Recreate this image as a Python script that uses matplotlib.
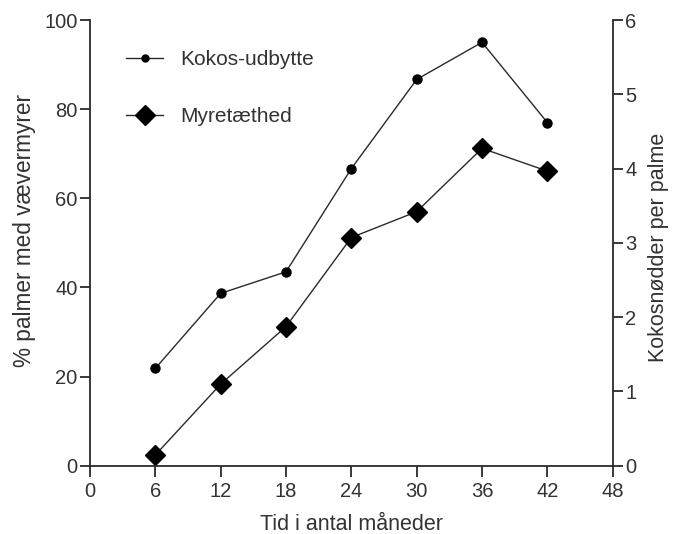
import matplotlib
matplotlib.use("Agg")
import matplotlib.pyplot as plt
from matplotlib.lines import Line2D

months = [6, 12, 18, 24, 30, 36, 42]
kokos_udbytte = [1.31, 2.32, 2.61, 4.00, 5.20, 5.70, 4.62]   # right axis: Kokosnødder per palme
myretaethed = [2.4, 18.3, 31.2, 51.2, 57.0, 71.2, 66.1]        # left axis: % palmer med vævermyrer

x_ticks = [0, 6, 12, 18, 24, 30, 36, 42, 48]
left_ticks = [0, 20, 40, 60, 80, 100]
right_ticks = [0, 1, 2, 3, 4, 5, 6]

plt.rcParams['font.family'] = ['Liberation Sans', 'DejaVu Sans']
txt = '#333333'
lc = '#2a2a2a'

fig = plt.figure(figsize=(6.75, 5.34), dpi=100)
ax = fig.add_axes([0.1333, 0.1279, 0.7744, 0.8346])
ax2 = ax.twinx()

ax.plot(months, myretaethed, color=lc, lw=1.0, marker='D', ms=10, mfc='black', mec='black')
ax2.plot(months, kokos_udbytte, color=lc, lw=1.0, marker='o', ms=6.5, mfc='black', mec='black')

ax.set_xlim(0, 48)
ax.set_ylim(0, 100)
ax2.set_ylim(0, 6)
ax.set_xticks(x_ticks)
ax.set_yticks(left_ticks)
ax2.set_yticks(right_ticks)

for a in (ax, ax2):
    a.spines['top'].set_visible(False)
    for s in a.spines.values():
        s.set_color(lc)
        s.set_linewidth(1.3)
    a.tick_params(colors=lc, labelcolor=txt, labelsize=14.5, length=7, width=1.3, direction='out')
ax2.spines['left'].set_visible(False)
ax2.spines['bottom'].set_visible(False)
ax.spines['right'].set_visible(False)
ax.tick_params(axis='x', length=8, pad=4)
ax.tick_params(axis='y', pad=2)
ax2.tick_params(axis='y', pad=2)

ax.set_xlabel('Tid i antal måneder', fontsize=15.5, color=txt, labelpad=9)
ax.set_ylabel('% palmer med vævermyrer', fontsize=16.3, color=txt, labelpad=6)
ax.yaxis.label.set_y(0.527)
ax2.set_ylabel('Kokosnødder per palme', fontsize=15.5, color=txt, labelpad=8)
ax2.yaxis.label.set_y(0.49)

handles = [
    Line2D([], [], color=lc, lw=1.0, marker='o', ms=5, mfc='black', mec='black'),
    Line2D([], [], color=lc, lw=1.0, marker='D', ms=10, mfc='black', mec='black'),
]
ax.legend(handles, ['Kokos-udbytte', 'Myretæthed'], loc='upper left',
          bbox_to_anchor=(0.069, 0.933), frameon=False, fontsize=15,
          borderaxespad=0, borderpad=0,
          labelcolor=txt, handlelength=1.78, labelspacing=1.84, handletextpad=0.82)

fig.savefig('out.png', dpi=100)
